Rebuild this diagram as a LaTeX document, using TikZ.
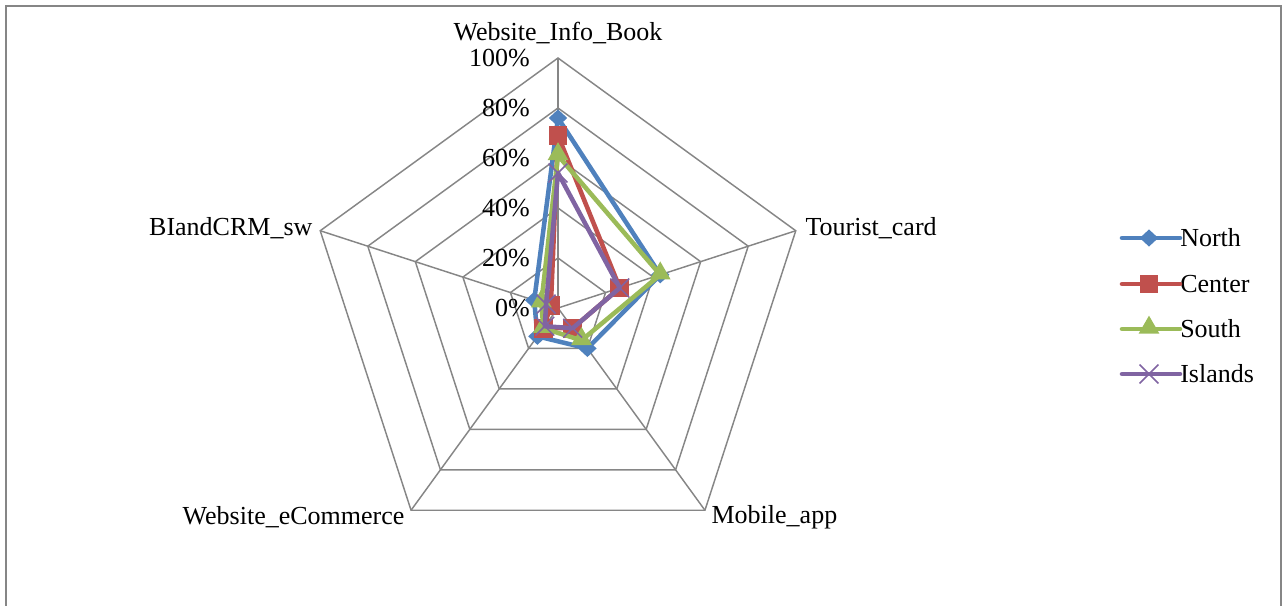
\documentclass[tikz,border=0pt]{standalone}
\usepackage{fontspec}
\setmainfont{Liberation Serif}
\usetikzlibrary{shapes.geometric,shapes.misc}
\definecolor{gridc}{HTML}{868686}
\definecolor{northc}{HTML}{4F81BD}
\definecolor{centerc}{HTML}{C0504D}
\definecolor{southc}{HTML}{9BBB59}
\definecolor{islandc}{HTML}{8064A2}
\tikzset{
  gridline/.style={gridc,line width=1.1pt},
  series/.style={line width=3.4pt,line join=round,line cap=round},
  mkN/.style={diamond,fill=northc,inner sep=0,minimum width=14pt,minimum height=13pt},
  mkC/.style={rectangle,fill=centerc,inner sep=0,minimum size=14pt},
  mkS/.style={regular polygon,regular polygon sides=3,fill=southc,inner sep=0,minimum size=18pt,yshift=1pt},
  mkI/.style={cross out,draw=islandc,line width=1.1pt,inner sep=0,minimum size=13pt},
  axlabel/.style={inner sep=1pt},
}
\begin{document}
\begin{tikzpicture}[x=0.75pt,y=0.75pt,font=\fontsize{19.5}{22}\selectfont]
\useasboundingbox (0,-606) rectangle (1282,0);
\draw[gridc,line width=1.5pt] (6,-606)--(6,-6)--(1281,-6)--(1281,-606);
\coordinate (O) at (558,-308);
% rings and spokes
\foreach \r in {50,100,...,250}
  \draw[gridline,shift={(O)}] (90:\r)--(18:\r)--(-54:\r)--(-126:\r)--(162:\r)--cycle;
\foreach \a in {90,18,-54,-126,162}
  \draw[gridline] (O)--++(\a:250);
% percent labels
\foreach \p in {0,20,...,100}
  \node[anchor=east,inner sep=0] (pc\p) at (530,-308+2.5*\p) {\p\%};
% axis labels
\node[axlabel] (info) at (558,-33) {Website\_Info\_Book};
\node[axlabel,anchor=west] (tcard) at (804,-228) {Tourist\_card};
\node[axlabel,anchor=west] (mapp) at (710,-517) {Mobile\_app};
\node[axlabel,anchor=east] (ecom) at (406,-517) {Website\_eCommerce};
\node[axlabel,anchor=east] (bicrm) at (314,-228) {BIandCRM\_sw};
% series
\foreach \s/\col/\vals in {N/northc/{76,43,20,14,10},C/centerc/{69,26,10,10,3},
                           S/southc/{61,43,16,10,7},I/islandc/{54,26,10,9,5}}{
  \foreach \v [count=\k] in \vals
    \path (O) ++(162-72*\k:2.5*\v) coordinate (\s\k);
  \draw[series,\col] (\s1)--(\s2)--(\s3)--(\s4)--(\s5)--cycle;
  \foreach \k in {1,...,5}
    \node[mk\s] (m\s\k) at (\s\k) {};
}
% legend
\foreach \s/\col/\name/\y in {N/northc/North/238,C/centerc/Center/284,
                              S/southc/South/329,I/islandc/Islands/374}{
  \node[anchor=west,inner sep=0] (lg\s) at (1180,-\y) {\name};
  \coordinate (lg\s a) at (1122,-\y);
  \draw[series,\col] (lg\s a) -- (lg\s.west);
  \node[mk\s] (lgm\s) at (1149,-\y) {};
}
\end{tikzpicture}
\end{document}
